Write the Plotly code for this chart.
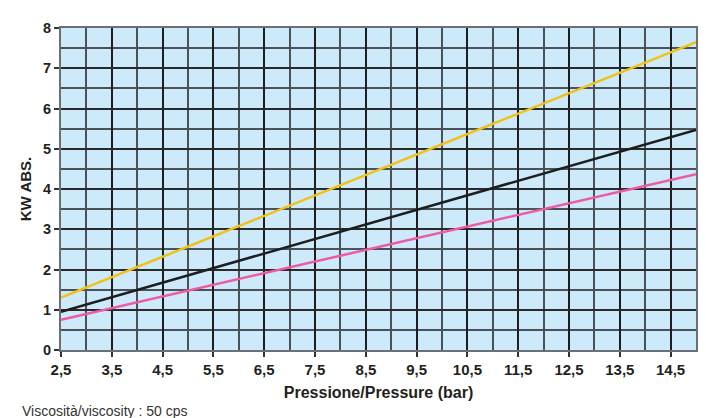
import plotly.graph_objects as go

# pressione (bar) ai due estremi del grafico
pressione = [2.5, 15.0]

kw_giallo = [1.30, 7.65]
kw_nero = [0.95, 5.47]
kw_rosa = [0.75, 4.37]

x_tick_vals = [2.5, 3.5, 4.5, 5.5, 6.5, 7.5, 8.5, 9.5, 10.5, 11.5, 12.5, 13.5, 14.5]
x_tick_text = ['2,5', '3,5', '4,5', '5,5', '6,5', '7,5', '8,5', '9,5',
               '10,5', '11,5', '12,5', '13,5', '14,5']
y_tick_vals = [0, 1, 2, 3, 4, 5, 6, 7, 8]

fig = go.Figure()

fig.add_trace(go.Scatter(x=pressione, y=kw_giallo, mode='lines',
                         line=dict(color='#f2c118', width=2.5), showlegend=False))
fig.add_trace(go.Scatter(x=pressione, y=kw_nero, mode='lines',
                         line=dict(color='#1e1e1e', width=2.5), showlegend=False))
fig.add_trace(go.Scatter(x=pressione, y=kw_rosa, mode='lines',
                         line=dict(color='#ef5aa3', width=2.5), showlegend=False))

fig.update_xaxes(
    range=[2.5, 15],
    tickvals=x_tick_vals, ticktext=['<b>%s</b>' % t for t in x_tick_text],
    ticks='outside', ticklen=5, tickwidth=1.5, tickcolor='#333',
    tickfont=dict(family='Liberation Sans', size=15, color='#231f20'),
    showgrid=True, gridcolor='#1e1e1e', gridwidth=1.5,
    minor=dict(dtick=1, tick0=2, showgrid=True, gridcolor='#4a5258', gridwidth=1.5),
    showline=True, linecolor='#6a7076', linewidth=2, mirror=True,
    zeroline=False,
    title=dict(text='<b>Pressione/Pressure (bar)</b>',
               font=dict(family='Liberation Sans', size=16, color='#231f20'), standoff=10),
)
fig.update_yaxes(
    range=[0, 8],
    tickvals=y_tick_vals, ticktext=['<b>%d</b>' % v for v in y_tick_vals],
    ticks='outside', ticklen=5, tickwidth=1.5, tickcolor='#333',
    tickfont=dict(family='Liberation Sans', size=14.5, color='#231f20'),
    showgrid=True, gridcolor='#2a2a2a', gridwidth=1.5,
    minor=dict(dtick=1, tick0=0.5, showgrid=True, gridcolor='#4a5258', gridwidth=1.5),
    showline=True, linecolor='#6a7076', linewidth=2, mirror=True,
    zeroline=False,
    title=dict(text='<b>KW ABS.</b>',
               font=dict(family='Liberation Sans', size=15, color='#231f20'), standoff=8),
)

fig.add_annotation(
    text='Viscosità/viscosity : 50 cps',
    xref='paper', yref='paper', x=-0.065, y=-0.19,
    xanchor='left', yanchor='middle', showarrow=False,
    font=dict(family='Liberation Sans', size=14, color='#333333'),
)

fig.update_layout(
    width=706, height=418,
    margin=dict(l=53, r=18, t=15, b=76),
    plot_bgcolor='#cdeafb',
    paper_bgcolor='white',
)

fig.write_html('out.html')
